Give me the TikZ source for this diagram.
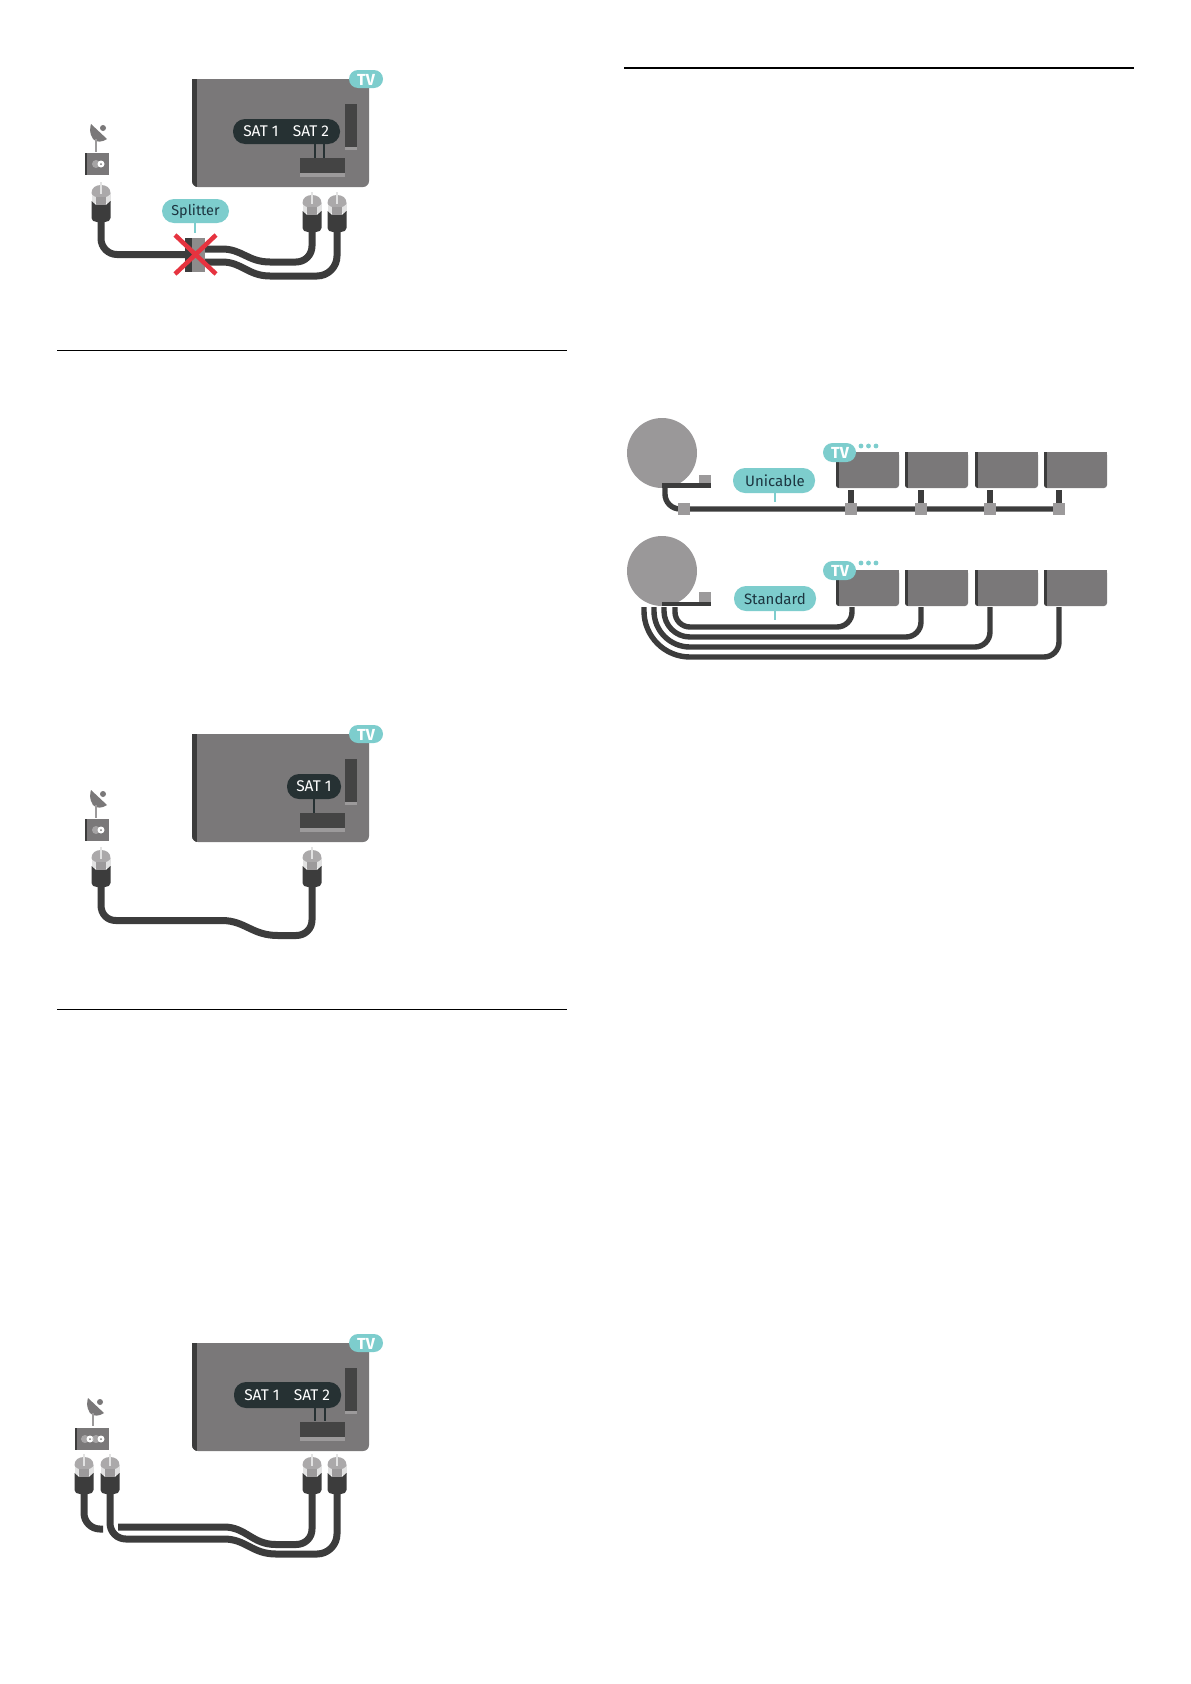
\documentclass[tikz,border=0pt]{standalone}
\usepackage{fontspec}
\setmainfont{Fira Sans}
\definecolor{tvgray}{HTML}{7A7879}
\definecolor{tvdark}{HTML}{3C3C3C}
\definecolor{slotdark}{HTML}{444444}
\definecolor{slotlight}{HTML}{9C9A9B}
\definecolor{domegray}{HTML}{ABA9AA}
\definecolor{collar}{HTML}{E2E2E2}
\definecolor{teal}{HTML}{7DCDCD}
\definecolor{inkdark}{HTML}{1C3540}
\definecolor{pilldark}{HTML}{263133}
\definecolor{crossred}{HTML}{E6333F}
\definecolor{dishgray}{HTML}{9A9899}
\tikzset{
  x=1pt,y=-1pt,
  cable/.style={draw=tvdark,line width=7pt,line cap=butt},
  thincable/.style={draw=tvdark,line width=5.4pt,line cap=butt},
  rule/.style={draw=black,line width=1.2pt},
  tealpill/.style={fill=teal,rounded corners=12pt,draw=none},
  darkpill/.style={fill=pilldark,rounded corners=12pt,draw=none},
  tvlabel/.style={text=white,font=\fontsize{16}{16}\selectfont\bfseries,inner sep=0pt},
  satlabel/.style={text=white,font=\fontsize{15.5}{16}\selectfont,inner sep=0pt},
  taglabel/.style={text=inkdark,font=\fontsize{15}{16}\selectfont,inner sep=0pt},
  pics/plug/.style={code={
    \fill[collar] (-9.5,8) -- (9.5,8) -- (9.5,18) -- (-9.5,18) -- cycle;
    \fill[domegray] (0,0) .. controls (5.5,0) and (9.5,3) .. (9.5,8) .. controls (9.5,10) and (5,13) .. (0,13) .. controls (-5,13) and (-9.5,10) .. (-9.5,8) .. controls (-9.5,3) and (-5.5,0) .. (0,0) -- cycle;
    \fill[slotlight] (-5,12) rectangle (5,20);
    \fill[tvdark] (-9.5,16) -- (-5,20) -- (5,20) -- (9.5,16) -- (9.5,33) .. controls (9.5,35.5) and (7,37) .. (4,37) -- (-4,37) .. controls (-7,37) and (-9.5,35.5) .. (-9.5,33) -- cycle;
    \draw[collar,line width=1.8pt] (0,-3) -- (0,9);
  }},
  pics/tvset/.style={code={
    \fill[tvgray,rounded corners=6pt] (192,79) -- (369,79) -- (369,187) -- (192,187) -- cycle;
    \fill[tvgray] (192,79) rectangle (369,90);
    \begin{scope}
      \clip[rounded corners=6pt] (192,70) -- (369,70) -- (369,187) -- (192,187) -- cycle;
      \fill[tvdark] (192,79) rectangle (197,187);
    \end{scope}
    \fill[slotdark] (345,104) rectangle (357,147);
    \fill[slotlight] (345,147) rectangle (357,150);
    \fill[slotdark] (300,158) rectangle (345,173);
    \fill[slotlight] (300,173) rectangle (345,177);
    \fill[teal,rounded corners=9pt] (349,70) rectangle (383,88);
  }},
  pics/smalltv/.style={code={
    \fill[tvgray,rounded corners=3pt] (0,0) -- (63,0) -- (63,36) -- (0,36) -- cycle;
    \fill[tvgray] (0,0) rectangle (63,8);
    \begin{scope}
      \clip[rounded corners=3pt] (0,-3) -- (63,-3) -- (63,36) -- (0,36) -- cycle;
      \fill[tvdark] (0,0) rectangle (3,36);
    \end{scope}
  }},
  pics/tap/.style={code={\fill[slotlight] (-6,-6) rectangle (6,6);}},
  pics/dish/.style={code={
    \fill[tvgray] (-5,0) -- (11,15) .. controls (7,18) and (0,19) .. (-3,15) .. controls (-7,9) and (-6,4) .. (-5,0) -- cycle;
    \fill[tvgray] (7,4) circle[radius=3];
    \draw[slotlight,line width=2pt] (0,15) -- (0,28);
  }},
  pics/outlet/.style={code={
    \fill[slotlight!60,opacity=.6] (-5,0) circle[radius=4];
    \fill[white] (0,0) circle[radius=3.5];
    \fill[tvgray] (0,0) circle[radius=1];
  }},
}
\begin{document}
\begin{tikzpicture}
\useasboundingbox (0,0) rectangle (1191,1684);
\fill[white] (0,0) rectangle (1191,1684);

% ---------- section rules
\coordinate (r1a) at (624,68);   \coordinate (r1b) at (1134,68);
\coordinate (r2a) at (57,350.5); \coordinate (r2b) at (567,350.5);
\coordinate (r3a) at (57,1009.5);\coordinate (r3b) at (567,1009.5);
\draw[rule,line width=2pt] (r1a) -- (r1b);
\draw[rule] (r2a) -- (r2b);
\draw[rule] (r3a) -- (r3b);

% ---------- diagram 1: splitter
\pic at (0,0) {tvset};
\node[tvlabel] (tv1) at (366,79.5) {TV};
\fill[darkpill] (233,119) rectangle (340,144);
\node[satlabel] (s1a) at (261,131.5) {SAT 1};
\node[satlabel] (s1b) at (311,131.5) {SAT 2};
\coordinate (p1a) at (315,144); \coordinate (q1a) at (315,158);
\coordinate (p1b) at (324,144); \coordinate (q1b) at (324,158);
\draw[pilldark,line width=1.5pt] (p1a) -- (q1a) (p1b) -- (q1b);
\pic at (96,124) {dish};
\fill[tvgray] (85,153) rectangle (109,175);
\fill[tvdark] (85,153) rectangle (87,175);
\pic at (101,164) {outlet};
\pic at (101,185) {plug};
\pic at (312,195) {plug};
\pic at (337,195) {plug};
\coordinate (c1a) at (101,221); \coordinate (c1b) at (188,254.5);
\draw[cable,rounded corners=16pt] (c1a) |- (c1b);
\coordinate (c2a) at (205,249); \coordinate (c2b) at (312,231);
\draw[cable] (c2a) -- (222,249) .. controls (242,249) and (248,262) .. (270,262) -- (296,262) .. controls (305,262) and (312,255) .. (312,246) -- (c2b);
\coordinate (c3a) at (205,262); \coordinate (c3b) at (337,231);
\draw[cable] (c3a) -- (222,262) .. controls (242,262) and (248,276) .. (270,276) -- (317,276) .. controls (328,276) and (337,267) .. (337,256) -- (c3b);
\fill[tvdark] (185,238) rectangle (192,272);
\fill[slotlight!90!black] (192,238) rectangle (205,272);
\fill[tealpill] (162,199) rectangle (229,223);
\node[taglabel,font=\fontsize{14.4}{16}\selectfont] (splab) at (195.5,211) {Splitter};
\coordinate (sp1) at (195,223); \coordinate (sp2) at (195,233);
\draw[teal,line width=1.3pt] (sp1) -- (sp2);
\coordinate (xa) at (175,235); \coordinate (xb) at (216,274);
\coordinate (xc) at (216,235); \coordinate (xd) at (175,274);
\draw[crossred,line width=4.5pt] (xa) -- (xb) (xc) -- (xd);

% ---------- diagram 2: one cable
\begin{scope}[shift={(0,655)}]
\pic at (0,0) {tvset};
\node[tvlabel] (tv2) at (366,79.5) {TV};
\fill[darkpill] (287,119) rectangle (341,144);
\node[satlabel] (s2a) at (314,131.5) {SAT 1};
\coordinate (p2) at (314,144); \coordinate (q2) at (314,158);
\draw[pilldark,line width=1.5pt] (p2) -- (q2);
\pic at (96,135) {dish};
\fill[tvgray] (85,164) rectangle (109,186);
\fill[tvdark] (85,164) rectangle (87,186);
\pic at (101,175) {outlet};
\pic at (101,195) {plug};
\pic at (312,195) {plug};
\coordinate (c4a) at (101,231); \coordinate (c4b) at (312,231);
\draw[cable] (c4a) -- (101,250) .. controls (101,259) and (107,265.5) .. (116,265.5) -- (222,265.5) .. controls (245,265.5) and (252,280.5) .. (278,280.5) -- (296,280.5) .. controls (305,280.5) and (312,274) .. (312,265) -- (c4b);
\end{scope}

% ---------- diagram 3: two cables
\begin{scope}[shift={(0,1264)}]
\pic at (0,0) {tvset};
\node[tvlabel] (tv3) at (366,79.5) {TV};
\fill[darkpill] (234,118) rectangle (341,144);
\node[satlabel] (s3a) at (262,131) {SAT 1};
\node[satlabel] (s3b) at (312,131) {SAT 2};
\coordinate (p3a) at (315,144); \coordinate (q3a) at (315,157);
\coordinate (p3b) at (325,144); \coordinate (q3b) at (325,157);
\draw[pilldark,line width=1.5pt] (p3a) -- (q3a) (p3b) -- (q3b);
\pic at (93,134) {dish};
\fill[tvgray] (75,164) rectangle (109,186);
\fill[tvdark] (75,164) rectangle (77,186);
\pic at (90,175) {outlet};
\pic at (101,175) {outlet};
\pic at (84,193) {plug};
\pic at (110,193) {plug};
\pic at (312,193) {plug};
\pic at (337,193) {plug};
\coordinate (c5a) at (84,229); \coordinate (c5b) at (103,265);
\draw[cable,rounded corners=16pt] (c5a) |- (c5b);
\coordinate (c6a) at (118,263); \coordinate (c6b) at (312,229);
\draw[cable] (c6a) -- (224,263) .. controls (246,263) and (252,280.5) .. (276,280.5) -- (296,280.5) .. controls (305,280.5) and (312,274) .. (312,265) -- (c6b);
\coordinate (c7a) at (110,229); \coordinate (c7b) at (337,229);
\draw[cable] (c7a) -- (110,259) .. controls (110,268) and (117,275) .. (126,275) -- (224,275) .. controls (246,275) and (252,290) .. (276,290) -- (317,290) .. controls (328,290) and (337,281) .. (337,270) -- (c7b);
\end{scope}

% ---------- right: Unicable
\fill[dishgray] (662,453) circle[radius=35];
\fill[slotlight] (699,475) rectangle (711,483);
\fill[tvdark] (662,483) rectangle (711,488);
\foreach \xx in {836,905,975,1044}{\pic at (\xx,452) {smalltv};}
\foreach \xx in {851,921,990,1059}{\draw[thincable] (\xx,490) -- (\xx,505);}
\coordinate (u1) at (665,488); \coordinate (u2) at (1059,509);
\draw[thincable,rounded corners=15pt] (u1) |- (u2);
\foreach \xx in {684,851,921,990,1059}{\pic at (\xx,509) {tap};}
\fill[teal,rounded corners=9.5pt] (823,443) rectangle (856,462);
\node[tvlabel] (tv4) at (840,452.5) {TV};
\foreach \xx in {861,868.5,876}{\fill[teal] (\xx,446) circle[radius=2.4];}
\fill[tealpill] (733,468) rectangle (815,493);
\node[taglabel] (unilab) at (775,480.5) {Unicable};
\coordinate (ul1) at (775,493); \coordinate (ul2) at (775,502);
\draw[teal,line width=1.3pt] (ul1) -- (ul2);

% ---------- right: Standard
\fill[dishgray] (662,571) circle[radius=35];
\fill[slotlight] (699,592) rectangle (711,602);
\fill[tvdark] (662,602) rectangle (711,606);
\foreach \xx in {836,905,975,1044}{\pic at (\xx,570) {smalltv};}
\coordinate (sa1) at (675,607); \coordinate (sa2) at (852,607);
\coordinate (sb1) at (664,607); \coordinate (sb2) at (921,607);
\coordinate (sc1) at (654,607); \coordinate (sc2) at (990,607);
\coordinate (sd1) at (644,607); \coordinate (sd2) at (1059,607);
\draw[thincable,rounded corners=15pt] (sa1) |- (760,627) -| (sa2);
\path[thincable] (sb1) [rounded corners=26pt] |- (800,637) [rounded corners=15pt] -| (sb2);
\path[thincable] (sc1) [rounded corners=36pt] |- (850,647) [rounded corners=15pt] -| (sc2);
\path[thincable] (sd1) [rounded corners=46pt] |- (900,657) [rounded corners=15pt] -| (sd2);
\fill[teal,rounded corners=9.5pt] (823,561) rectangle (856,580);
\node[tvlabel] (tv5) at (840,570.5) {TV};
\foreach \xx in {861,868.5,876}{\fill[teal] (\xx,563) circle[radius=2.4];}
\fill[tealpill] (734,586) rectangle (816,611);
\node[taglabel] (stlab) at (775,598.5) {Standard};
\coordinate (sl1) at (775,611); \coordinate (sl2) at (775,620);
\draw[teal,line width=1.3pt] (sl1) -- (sl2);
\end{tikzpicture}
\end{document}
